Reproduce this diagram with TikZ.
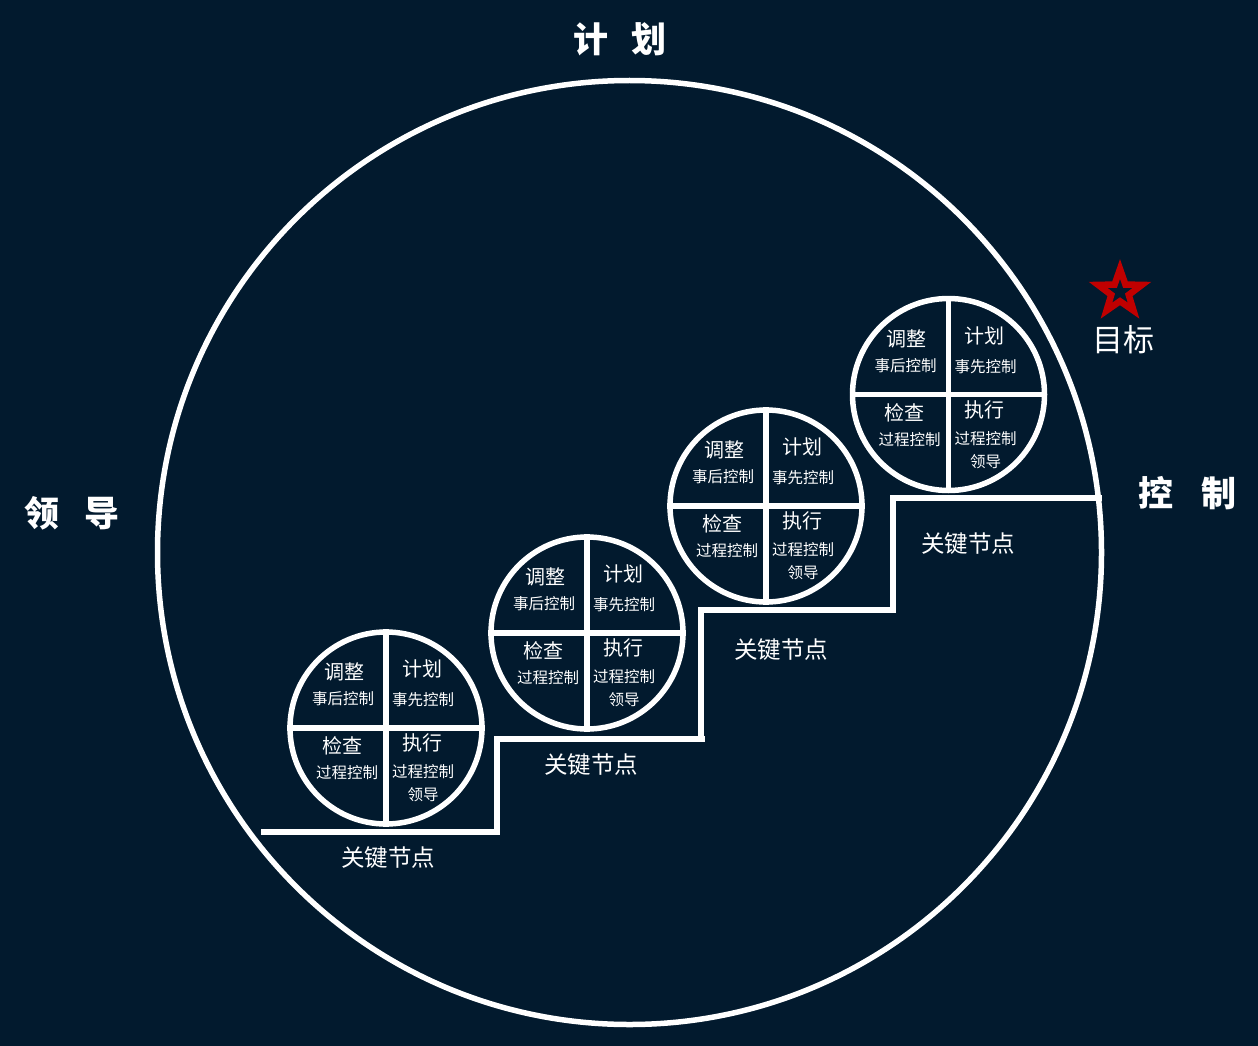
\documentclass[tikz,border=0pt]{standalone}
\usepackage{fontspec}
\setmainfont{Noto Sans CJK SC}
\usetikzlibrary{shapes.geometric}
\definecolor{bg}{HTML}{021A2E}
\definecolor{starred}{HTML}{C00000}
\begin{document}
\begin{tikzpicture}[x=1pt,y=-1pt,
  ln/.style={draw=white,line width=5.5pt},
  circ/.style={circle,draw=white,line width=5.5pt,minimum size=192pt,inner sep=0pt},
  bigc/.style={circle,draw=white,line width=5.5pt,minimum size=944pt,inner sep=0pt},
  big/.style={text=white,inner sep=0pt,font=\fontsize{20}{23}\selectfont},
  sml/.style={text=white,inner sep=0pt,font=\fontsize{15.5}{18}\selectfont},
  key/.style={text=white,inner sep=0pt,font=\fontsize{23.5}{27}\selectfont},
  ttl/.style={text=white,inner sep=0pt,font=\fontsize{35}{40}\selectfont\bfseries},
  ]
\fill[bg] (0,0) rectangle (1258,1046);
\useasboundingbox (0,0) rectangle (1258,1046);

\node[bigc] (main) at (629.5,552.5) {};

\node[ttl] (tplan) at (620,39) {计\hspace{24pt}划};
\node[ttl] (tlead) at (72,513) {领\hspace{26pt}导};
\node[ttl] (tctrl) at (1187,493) {控\hspace{28pt}制};

\node[star,star points=5,star point ratio=2.5,minimum size=46pt,inner sep=0pt,
      draw=starred,line width=6.5pt,fill=bg] (star) at (1120,292) {};
\node[text=white,inner sep=0pt,font=\fontsize{31}{35}\selectfont] (goal) at (1123,340) {目标};

% staircase
\coordinate (s0) at (261,832);
\coordinate (s1) at (497,832);
\coordinate (s2) at (497,739);
\coordinate (s3) at (705,739);
\coordinate (s4) at (701,739);
\coordinate (s5) at (701,610);
\coordinate (s6) at (893,610);
\coordinate (s7) at (893,498);
\coordinate (s8) at (1102,498);
\draw[ln] (s0) -- (s1) -- (s2) -- (s3);
\draw[ln] (s4) -- (s5) -- (s6) -- (s7) -- (s8);

\node[key] (k1) at (388,858) {关键节点};
\node[key] (k2) at (591,765) {关键节点};
\node[key] (k3) at (781,650) {关键节点};
\node[key] (k4) at (968,544) {关键节点};

\foreach \n/\cx/\cy in {a/386/728, b/587/633, c/766/506, d/948.5/394.5} {
  \node[circ,fill=bg] (c\n) at (\cx,\cy) {};
  \draw[ln] (c\n.north) -- (c\n.south);
  \draw[ln] (c\n.west) -- (c\n.east);
  \node[big] (adj\n) at ([shift={(-42,-56)}]c\n.center) {调整};
  \node[sml] (post\n) at ([shift={(-43,-29)}]c\n.center) {事后控制};
  \node[big] (plan\n) at ([shift={(36,-59)}]c\n.center) {计划};
  \node[sml] (pre\n) at ([shift={(37,-28)}]c\n.center) {事先控制};
  \node[big] (chk\n) at ([shift={(-44,18)}]c\n.center) {检查};
  \node[sml] (proca\n) at ([shift={(-39,45)}]c\n.center) {过程控制};
  \node[big] (exe\n) at ([shift={(36,15)}]c\n.center) {执行};
  \node[sml] (procb\n) at ([shift={(37,44)}]c\n.center) {过程控制};
  \node[sml] (lead\n) at ([shift={(37,67)}]c\n.center) {领导};
}
\end{tikzpicture}
\end{document}
